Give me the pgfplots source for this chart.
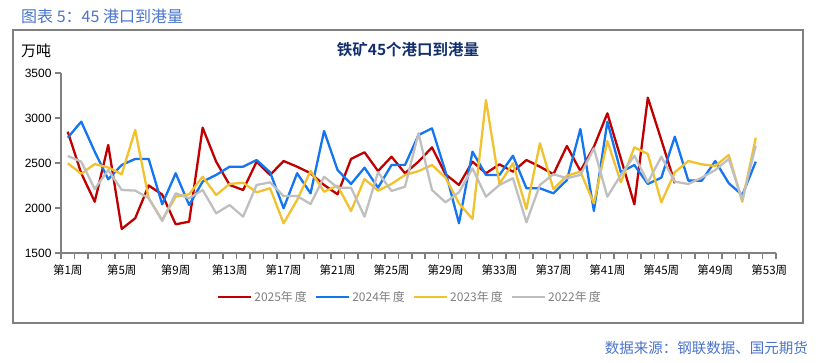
\documentclass[border=0pt]{standalone}
\usepackage{pgfplots}
\pgfplotsset{compat=1.18}
\usepackage{fontspec}
\setmainfont{Liberation Sans}
\newfontfamily\cjk{Noto Sans CJK SC}
\newfontfamily\cjkb{Noto Sans CJK SC Bold}
\definecolor{c25}{HTML}{C00000}
\definecolor{c24}{HTML}{1475F0}
\definecolor{c23}{HTML}{F2C12E}
\definecolor{c22}{HTML}{BFBFBF}
\definecolor{axgray}{HTML}{808080}
\definecolor{ttlblue}{HTML}{4A74C9}
\definecolor{navy}{HTML}{13306E}
\definecolor{leggray}{HTML}{7F7F7F}
\begin{document}
\begin{tikzpicture}[x=1pt,y=1pt]
\path (0,0) rectangle (818,363);
\draw[axgray,line width=2pt] (13,40) rectangle (803,333);
\node[anchor=west,text=ttlblue,font=\cjk\fontsize{16}{18}\selectfont,inner sep=0] at (21,347) {图表 5：45 港口到港量};
\node[anchor=east,text=ttlblue,font=\cjk\fontsize{14.5}{16}\selectfont,inner sep=0] at (808,15) {数据来源：钢联数据、国元期货};
\node[text=black,font=\cjk\fontsize{15}{17}\selectfont,inner sep=0] at (36,312) {万吨};
\node[text=navy,font=\cjkb\fontsize{15.5}{17}\selectfont,inner sep=0] at (408,313) {铁矿45个港口到港量};
\begin{axis}[
  at={(61pt,110pt)}, anchor=south west,
  scale only axis, width=715pt, height=180pt,
  xmin=0.5, xmax=53.5, ymin=1500, ymax=3500,
  axis x line*=bottom, axis y line*=left,
  axis line style={axgray,line width=1.8pt},
  xtick={1,5,...,53},
  xticklabels={第1周,第5周,第9周,第13周,第17周,第21周,第25周,第29周,第33周,第37周,第41周,第45周,第49周,第53周},
  minor xtick={0.5,1.5,...,53.5},
  major x tick style={draw=none},
  minor x tick style={axgray,line width=1.5pt},
  minor tick length=6pt,
  ytick={1500,2000,...,3500},
  major y tick style={axgray,line width=1.5pt},
  major tick length=6pt,
  tick align=outside,
  xticklabel style={font=\cjk\fontsize{11.5}{13}\selectfont, yshift=-2pt},
  yticklabel style={font=\fontsize{12}{14}\selectfont},
  /pgf/number format/assume math mode=true,
  /pgf/number format/1000 sep={},
  clip=false,
  legend style={at={(0.488,-0.244)}, anchor=center, draw=none, fill=none,
    legend columns=4, font=\cjk\fontsize{12}{14}\selectfont, text=leggray,
    /tikz/every even column/.append style={column sep=6pt},
    inner sep=0pt},
  legend image code/.code={\draw[#1] (0pt,0pt) -- (33pt,0pt);},
  every axis plot/.append style={line width=2.3pt, line join=round, mark=none},
]
\addplot[c25] coordinates {
(1,2848)(2,2386)(3,2070)(4,2700)(5,1767)(6,1886)(7,2250)(8,2150)(9,1819)(10,1848)
(11,2892)(12,2515)(13,2256)(14,2200)(15,2515)(16,2367)(17,2522)(18,2459)(19,2386)(20,2256)
(21,2152)(22,2545)(23,2619)(24,2411)(25,2570)(26,2386)(27,2515)(28,2674)(29,2375)(30,2256)
(31,2515)(32,2386)(33,2485)(34,2404)(35,2533)(36,2459)(37,2375)(38,2689)(39,2411)(40,2680)
(41,3052)(42,2550)(43,2041)(44,3226)(45,2756)(46,2275)};
\addlegendentry{2025年\,度}
\addplot[c24] coordinates {
(1,2781)(2,2959)(3,2626)(4,2319)(5,2478)(6,2545)(7,2545)(8,2041)(9,2386)(10,2033)
(11,2293)(12,2367)(13,2459)(14,2459)(15,2533)(16,2397)(17,1997)(18,2386)(19,2163)(20,2856)
(21,2422)(22,2267)(23,2448)(24,2226)(25,2478)(26,2478)(27,2811)(28,2885)(29,2404)(30,1830)
(31,2626)(32,2367)(33,2367)(34,2581)(35,2219)(36,2219)(37,2163)(38,2311)(39,2878)(40,1967)
(41,2959)(42,2397)(43,2478)(44,2267)(45,2337)(46,2792)(47,2304)(48,2304)(49,2522)(50,2275)
(51,2144)(52,2515)};
\addlegendentry{2024年\,度}
\addplot[c23] coordinates {
(1,2497)(2,2380)(3,2489)(4,2450)(5,2375)(6,2867)(7,2108)(8,1867)(9,2126)(10,2152)
(11,2348)(12,2144)(13,2267)(14,2281)(15,2174)(16,2219)(17,1830)(18,2089)(19,2411)(20,2181)
(21,2248)(22,1967)(23,2322)(24,2193)(25,2267)(26,2367)(27,2410)(28,2478)(29,2337)(30,2052)
(31,1878)(32,3200)(33,2267)(34,2497)(35,1989)(36,2719)(37,2211)(38,2359)(39,2404)(40,2052)
(41,2744)(42,2285)(43,2674)(44,2600)(45,2063)(46,2397)(47,2522)(48,2485)(49,2467)(50,2589)
(51,2070)(52,2781)};
\addlegendentry{2023年\,度}
\addplot[c22] coordinates {
(1,2578)(2,2515)(3,2211)(4,2422)(5,2200)(6,2193)(7,2110)(8,1856)(9,2163)(10,2108)
(11,2200)(12,1941)(13,2033)(14,1904)(15,2256)(16,2285)(17,2133)(18,2133)(19,2044)(20,2348)
(21,2226)(22,2226)(23,1904)(24,2397)(25,2189)(26,2237)(27,2830)(28,2200)(29,2063)(30,2174)
(31,2441)(32,2126)(33,2256)(34,2330)(35,1841)(36,2256)(37,2375)(38,2330)(39,2367)(40,2663)
(41,2126)(42,2367)(43,2581)(44,2285)(45,2570)(46,2293)(47,2267)(48,2337)(49,2422)(50,2545)
(51,2089)(52,2692)};
\addlegendentry{2022年\,度}
\end{axis}
\end{tikzpicture}
\end{document}
